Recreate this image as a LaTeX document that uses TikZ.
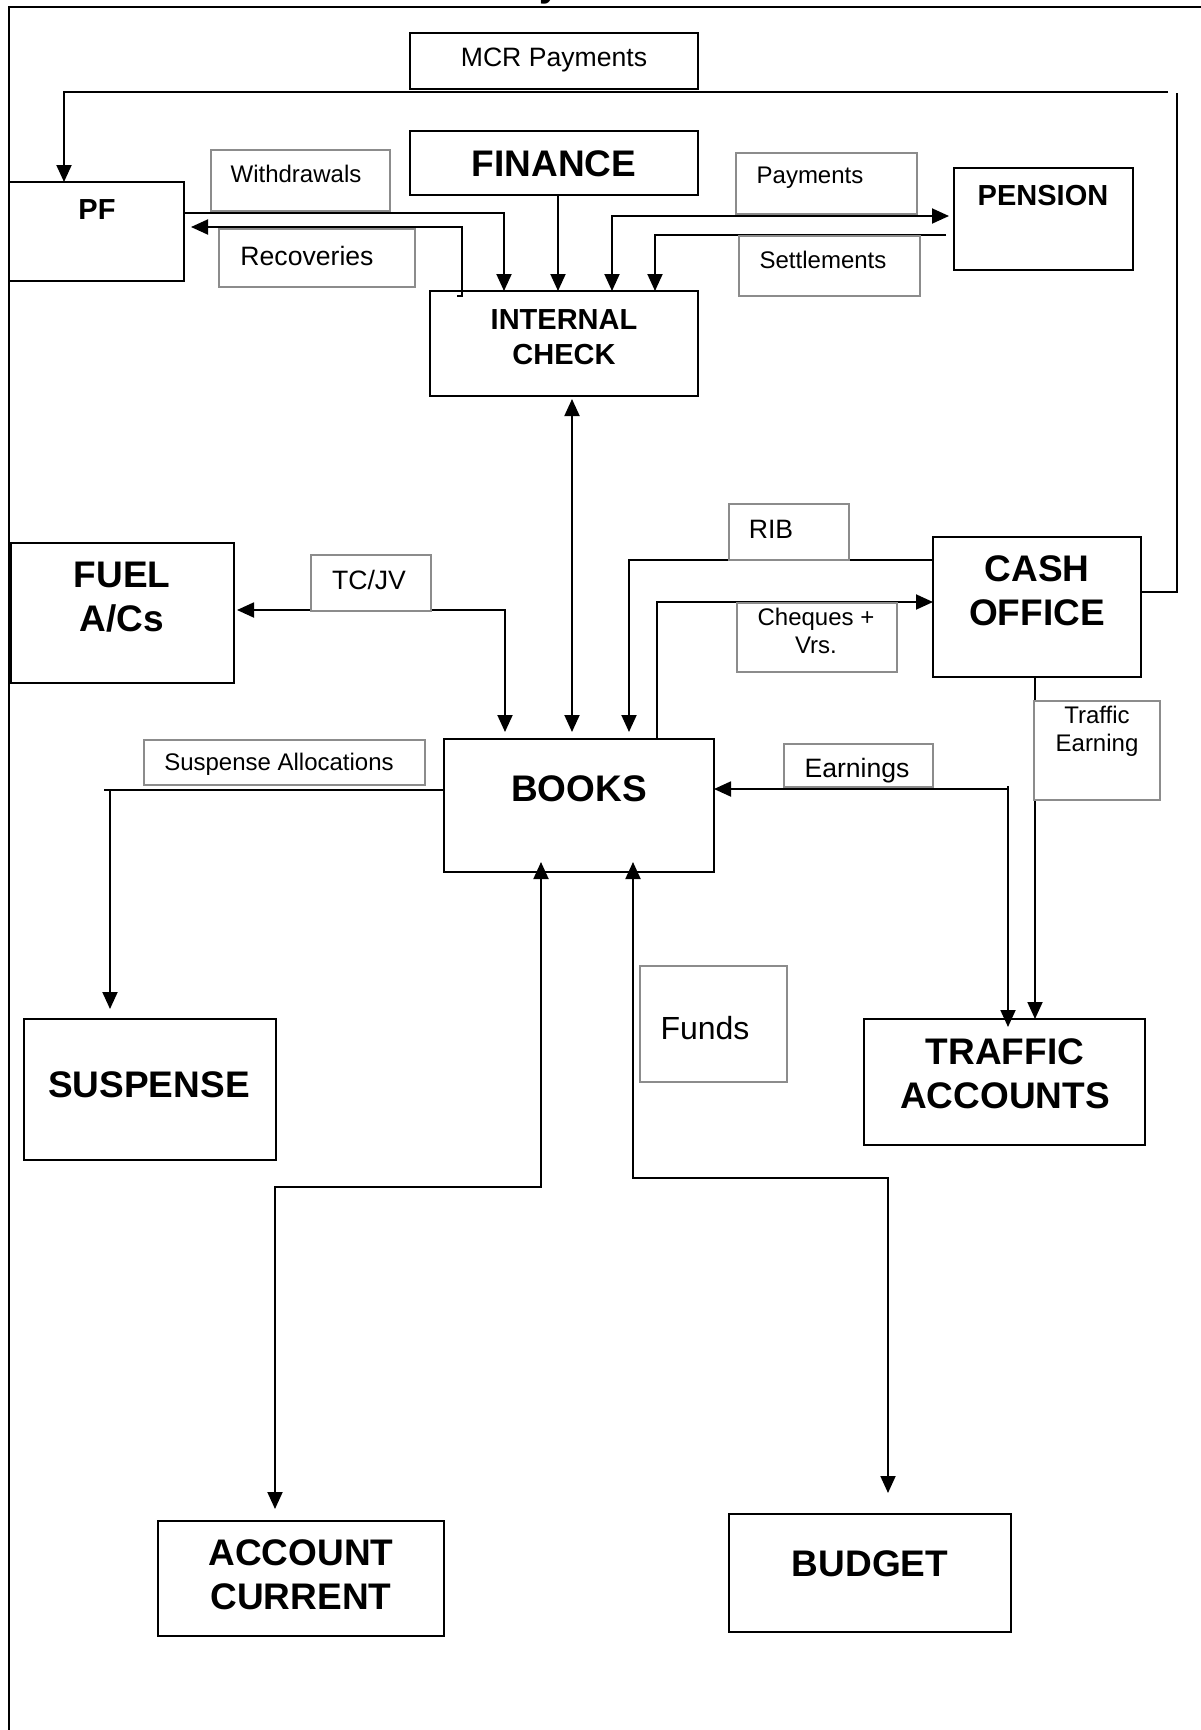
\documentclass[tikz,border=0pt]{standalone}
\usepackage{fontspec}
\setmainfont{Liberation Sans}
\usetikzlibrary{arrows.meta}
\begin{document}
\begin{tikzpicture}[x=1pt,y=-1pt,
  box/.style={draw=black,line width=2.2pt,anchor=north west,inner sep=0pt,outer sep=0pt},
  tagbox/.style={draw=black!45,fill=white,line width=2pt,anchor=north west,inner sep=0pt,outer sep=0pt},
  hbig/.style={font=\fontsize{37}{44}\selectfont\bfseries,align=center,inner sep=0pt},
  hsmall/.style={font=\fontsize{29}{35}\selectfont\bfseries,align=center,inner sep=0pt},
  lbl/.style={font=\fontsize{24}{27.6}\selectfont,align=center,inner sep=0pt},
  lblb/.style={font=\fontsize{26.6}{30}\selectfont,align=center,inner sep=0pt},
  conn/.style={line width=1.9pt},
  tip/.tip={Triangle[length=17pt,width=15pt]},
  arr/.style={conn,-tip},
  darr/.style={conn,tip-tip}]
\useasboundingbox (0,0) rectangle (1200,1730);
\fill[white] (0,0) rectangle (1200,1730);

% page frame and the heading line above it
\draw[line width=2.2pt] (9,1740) -- (9,7) -- (1210,7);
\node[hbig,anchor=base] (ttl) at (550,-4) {y};

% main boxes
\node[box,minimum width=288pt,minimum height=56pt,line width=1.6pt] (mcr) at (410,33) {};
\node[box,minimum width=288pt,minimum height=64pt] (fin) at (410,131) {};
\node[box,minimum width=175pt,minimum height=99pt] (pf) at (9,182) {};
\node[box,minimum width=268pt,minimum height=105pt] (ic) at (430,291) {};
\node[box,minimum width=179pt,minimum height=102pt] (pen) at (954,168) {};
\node[box,minimum width=223pt,minimum height=140pt] (fuel) at (11,543) {};
\node[box,minimum width=208pt,minimum height=140pt] (cash) at (933,537) {};
\node[box,minimum width=270pt,minimum height=133pt] (books) at (444,739) {};
\node[box,minimum width=252pt,minimum height=141pt] (susp) at (24,1019) {};
\node[box,minimum width=281pt,minimum height=126pt] (traf) at (864,1019) {};
\node[box,minimum width=286pt,minimum height=115pt] (acc) at (158,1521) {};
\node[box,minimum width=282pt,minimum height=118pt] (bud) at (729,1514) {};

% box titles
\node[lblb] (mcrt) at (554,60) {MCR Payments};
\node[hbig] (fint) at (554,164) {FINANCE};
\node[hsmall] (pft) at (97,210) {PF};
\node[hsmall] (ict) at (564,337) {INTERNAL\\CHECK};
\node[hsmall] (pent) at (1043,196) {PENSION};
\node[hbig] (fuelt) at (122,597) {FUEL\\A/Cs};
\node[hbig] (casht) at (1037,591) {CASH\\OFFICE};
\node[hbig] (bookst) at (579,789) {BOOKS};
\node[hbig] (suspt) at (149,1085) {SUSPENSE};
\node[hbig] (traft) at (1005,1074) {TRAFFIC\\ACCOUNTS};
\node[hbig] (acct) at (301,1575) {ACCOUNT\\CURRENT};
\node[hbig] (budt) at (870,1564) {BUDGET};

% bend points of the connectors
\coordinate (mcrR) at (1177,592);
\coordinate (mcrT) at (1177,93);
\coordinate (mcrE) at (1168,92);
\coordinate (mcrL) at (64,92);
\coordinate (wd1) at (504,213);
\coordinate (rc0) at (462,296);
\coordinate (rc1) at (462,227);
\coordinate (fn) at ([xshift=4pt]fin.south);
\coordinate (py1) at (612,216);
\coordinate (st1) at (655,235);
\coordinate (ib) at (572,500);
\coordinate (tj) at (505,610);
\coordinate (rb) at (629,560);
\coordinate (cq) at (657,602);
\coordinate (sa) at (110,790);
\coordinate (en) at (1008,789);
\coordinate (te) at (1035,680);
\coordinate (ac1) at (541,1187);
\coordinate (ac2) at (275,1187);
\coordinate (bu1) at (633,1178);
\coordinate (bu2) at (888,1178);

% MCR payments: cash office round the top to PF
\draw[conn] (cash.east |- mcrR) -- (mcrR) -- (mcrT);
\draw[arr] (mcrE) -- (mcrL) -- (mcrL |- pf.north);

% PF <-> internal check
\draw[arr] (pf.east |- wd1) -- (wd1) -- (wd1 |- ic.north);
\draw[arr,shorten >=7pt] ([xshift=-5pt]rc0) -- (rc0) -- (rc1) -- (pf.east |- rc1);

% finance and pension to internal check
\draw[arr] (fn) -- (fn |- ic.north);
\draw[darr,shorten >=5pt] (py1 |- ic.north) -- (py1) -- (pen.west |- py1);
\draw[arr,shorten <=8pt] (pen.west |- st1) -- (st1) -- (st1 |- ic.north);

% internal check <-> books
\draw[darr,shorten <=3pt,shorten >=7pt] (ib |- ic.south) -- (ib |- books.north);

% fuel accounts
\draw[darr,shorten <=7pt,shorten >=3pt] (tj |- books.north) -- (tj) -- (fuel.east |- tj);

% cash office <-> books
\draw[arr,shorten >=7pt] (cash.west |- rb) -- (rb) -- (rb |- books.north);
\draw[arr] (cq |- books.north) -- (cq) -- (cash.west |- cq);

% suspense
\draw[conn] (books.west |- sa) -- ([xshift=-6pt]sa);
\draw[arr,shorten >=10pt] (sa) -- (sa |- susp.north);

% traffic accounts
\draw[arr] (en) -- (books.east |- en);
\draw[arr,shorten >=-8pt] ([yshift=3pt]en) -- (en |- traf.north);
\draw[arr] (te |- cash.south) -- (te |- traf.north);

% account current and budget
\draw[darr,shorten <=-10pt,shorten >=12pt] (ac1 |- books.south) -- (ac1) -- (ac2) -- (ac2 |- acc.north);
\draw[darr,shorten <=-10pt,shorten >=21pt] (bu1 |- books.south) -- (bu1) -- (bu2) -- (bu2 |- bud.north);

% flow labels
\node[tagbox,minimum width=179pt,minimum height=61pt] (wdb) at (211,150) {};
\node[lbl] (wdt) at (296,174) {Withdrawals};
\node[tagbox,minimum width=196pt,minimum height=58pt] (rcb) at (219,229) {};
\node[lblb] (rct) at (307,256) {Recoveries};
\node[tagbox,minimum width=181pt,minimum height=61pt] (pyb) at (736,153) {};
\node[lbl] (pyt) at (810,178) {Payments};
\node[tagbox,minimum width=181pt,minimum height=60pt] (stb) at (739,236) {};
\node[lbl] (stt) at (823,260) {Settlements};
\node[tagbox,minimum width=120pt,minimum height=56pt] (tjb) at (311,555) {};
\node[lblb] (tjt) at (369,580) {TC/JV};
\node[tagbox,minimum width=120pt,minimum height=56pt] (rbb) at (729,504) {};
\node[lblb] (rbt) at (771,529) {RIB};
\node[tagbox,minimum width=160pt,minimum height=69pt] (cqb) at (737,603) {};
\node[lbl] (cqt) at (816,631) {Cheques +\\Vrs.};
\node[tagbox,minimum width=281pt,minimum height=45pt] (sab) at (144,740) {};
\node[lbl] (sat) at (279,764) {Suspense Allocations};
\node[tagbox,minimum width=149pt,minimum height=43pt] (enb) at (784,744) {};
\node[lblb] (ent) at (857,771) {Earnings};
\node[tagbox,minimum width=126pt,minimum height=99pt] (teb) at (1034,701) {};
\node[lbl] (tet) at (1097,731) {Traffic\\Earning};
\node[tagbox,minimum width=147pt,minimum height=116pt] (fdb) at (640,966) {};
\node[font=\fontsize{32}{36}\selectfont,inner sep=0pt] (fdt) at (705,1028) {Funds};
\end{tikzpicture}
\end{document}
